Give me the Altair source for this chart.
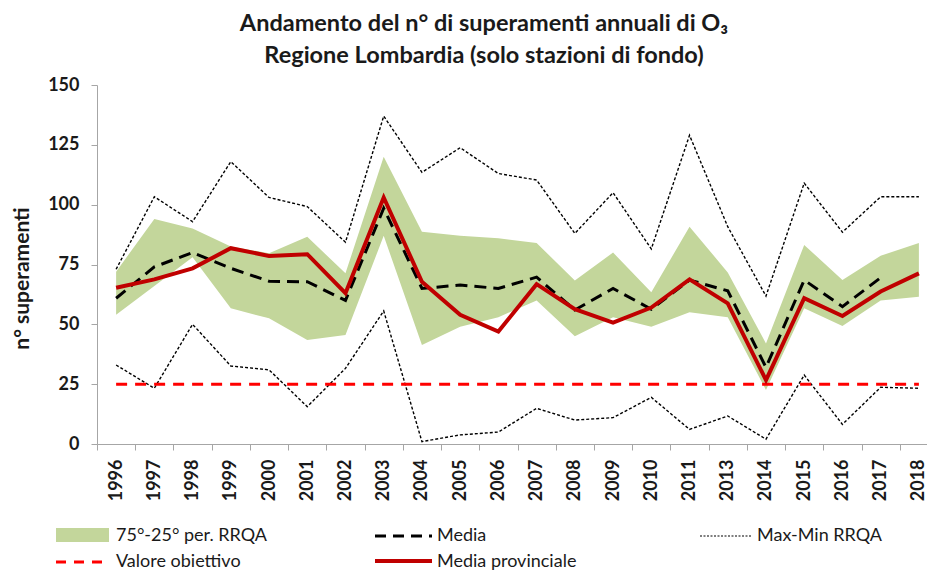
import altair as alt
import pandas as pd

years = ["1996", "1997", "1998", "1999", "2000", "2001", "2002", "2003", "2004",
         "2005", "2006", "2007", "2008", "2009", "2010", "2011", "2013", "2014",
         "2015", "2016", "2017", "2018"]
p75 = [72, 94, 90, 82.5, 79.7, 86.6, 71.3, 120, 88.7, 87, 86, 84, 68.3, 80, 63.4,
       90.8, 71.7, 42, 83.2, 68.5, 78.7, 84]
p25 = [54, 66, 78, 56.7, 52.5, 43.5, 45.5, 87, 41.4, 49, 53, 60, 45, 53, 49, 55,
       53, 22.6, 56.7, 49.3, 60, 61.5]
vmax = [73, 103.3, 92.9, 118, 103, 99.2, 84.3, 137, 113.5, 123.8, 113, 110.3, 88,
        105, 81.5, 129, 90.8, 61.8, 109, 88.5, 103.3, 103.3]
vmin = [33, 23.3, 50, 32.6, 31, 15.6, 31.6, 55.6, 1, 3.8, 5, 14.9, 10, 11, 19.5,
        6.1, 11.7, 2, 28.8, 8.2, 23.7, 23.3]
media = [60.9, 74, 80, 73.4, 68, 67.8, 60, 98.5, 65, 66.4, 65, 69.7, 56, 65, 56.3,
         68.5, 64, 32, 68.5, 57.4, 69.5, None]
media_prov = [65.3, 68.8, 73.4, 81.8, 78.6, 79.3, 63, 103, 67.8, 54, 47, 66.8, 56.3,
              50.7, 57, 68.8, 58.8, 26.7, 60.9, 53.5, 63.7, 71.3]
obiettivo = 25

df = pd.DataFrame({
    "year": years, "p75": p75, "p25": p25, "vmax": vmax, "vmin": vmin,
    "media": media, "prov": media_prov, "obj": [obiettivo] * len(years),
})

FONT = "Lato"
W, H = 830, 359
xscale = alt.Scale(type="band", domain=years, paddingInner=0, paddingOuter=0, range=[0, 841])
yscale = alt.Scale(domain=[0, 150])

xax = alt.Axis(title=None, labelAngle=270, labelAlign="right", labelBaseline="middle",
               labelPadding=9, tickBand="extent", tickSize=6, tickColor="#a6a6a6",
               domainColor="#a6a6a6", labelFont=FONT, labelFontSize=18,
               labelFontWeight="bold", labelColor="#1a1a1a", grid=False)
yax = alt.Axis(title="n° superamenti", values=[0, 25, 50, 75, 100, 125, 150],
               tickSize=6, tickColor="#a6a6a6", domainColor="#a6a6a6",
               labelPadding=12, labelFont=FONT, labelFontSize=18,
               labelFontWeight="bold", labelColor="#1a1a1a", grid=False,
               titleFont=FONT, titleFontSize=21, titleFontWeight="bold",
               titleColor="#1a1a1a", titleAngle=270, titleX=-75, titleY=193,
               titleAlign="center", titleBaseline="middle")

base = alt.Chart(df)
X = alt.X("year:O", sort=years, scale=xscale, axis=xax, bandPosition=0.5)

band = base.mark_area(color="#c3d69b", opacity=1).encode(
    x=X, y=alt.Y("p75:Q", scale=yscale, axis=yax), y2="p25:Q")
maxl = base.mark_line(color="#000000", strokeWidth=1.4, strokeDash=[3, 2]).encode(
    x=X, y=alt.Y("vmax:Q", scale=yscale))
minl = base.mark_line(color="#000000", strokeWidth=1.4, strokeDash=[3, 2]).encode(
    x=X, y=alt.Y("vmin:Q", scale=yscale))
objl = base.mark_line(color="#ff0000", strokeWidth=3, strokeDash=[11, 8]).encode(
    x=X, y=alt.Y("obj:Q", scale=yscale))
medl = base.mark_line(color="#000000", strokeWidth=3, strokeDash=[12, 7]).encode(
    x=X, y=alt.Y("media:Q", scale=yscale))
provl = base.mark_line(color="#c00000", strokeWidth=4).encode(
    x=X, y=alt.Y("prov:Q", scale=yscale))

# manual legend (layout positions in pixels)
def leg_text(label, x, y):
    return alt.Chart(pd.DataFrame({"label": [label]})).mark_text(
        font=FONT, fontSize=18, color="#1a1a1a", align="left", baseline="middle"
    ).encode(x=alt.value(x), y=alt.value(y), text="label:N")

def leg_rule(x1, x2, y, color, width, dash=None):
    kw = dict(color=color, strokeWidth=width)
    if dash:
        kw["strokeDash"] = dash
    return alt.Chart(pd.DataFrame({"k": [0]})).mark_rule(**kw).encode(
        x=alt.value(x1), x2=alt.value(x2), y=alt.value(y))

swatch = alt.Chart(pd.DataFrame({"k": [0]})).mark_rect(color="#c3d69b").encode(
    x=alt.value(-41), x2=alt.value(12), y=alt.value(443), y2=alt.value(457))

ROW2 = 477
legend = [
    swatch, leg_text("75°-25° per. RRQA", 19, 451),
    leg_rule(-41, 13, ROW2, "#ff0000", 3, [10, 8]), leg_text("Valore obiettivo", 19, ROW2),
    leg_rule(278, 335, 451, "#000000", 3, [11, 7]), leg_text("Media", 340, 451),
    leg_rule(278, 335, ROW2 - 1, "#c00000", 4), leg_text("Media provinciale", 340, ROW2),
    leg_rule(603, 655, 451, "#000000", 1.2, [2, 1.5]), leg_text("Max-Min RRQA", 660, 451),
]

chart = alt.layer(band, maxl, minl, objl, medl, provl, *legend).properties(
    width=W, height=H,
    title=alt.TitleParams(
        text=["Andamento del n° di superamenti annuali di O₃",
              "Regione Lombardia (solo stazioni di fondo)"],
        font=FONT, fontSize=23.5, fontWeight="bold", color="#1a1a1a",
        anchor="middle", dx=-28, offset=9, lineHeight=32),
    autosize=alt.AutoSizeParams(type="none"),
    padding={"left": 89, "top": 77, "right": 0, "bottom": 129},
).configure_view(stroke=None)

chart.save("out.html", embed_options={"renderer": "svg", "actions": False})
